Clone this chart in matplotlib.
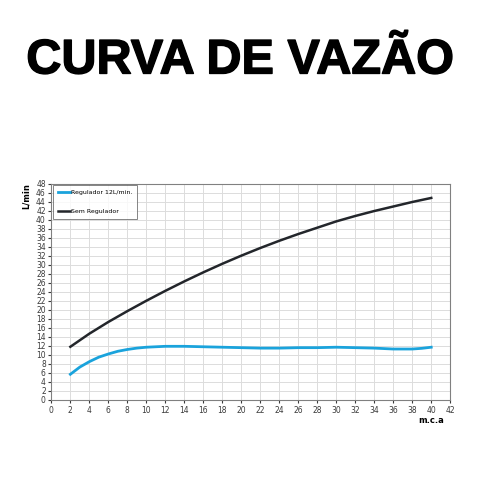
import matplotlib
matplotlib.use("Agg")
import matplotlib.pyplot as plt
import matplotlib.patheffects as pe

# Pressure (m.c.a) and flow (L/min)
pressure_reg = [2, 3, 4, 5, 6, 7, 8, 9, 10, 12, 14, 16, 18, 20, 22, 24, 26, 28, 30, 32, 34, 36, 38, 39, 40]
flow_regulator = [5.7, 7.3, 8.5, 9.5, 10.2, 10.8, 11.2, 11.5, 11.7, 11.9, 11.9, 11.8, 11.7, 11.6,
                  11.5, 11.5, 11.6, 11.6, 11.7, 11.6, 11.5, 11.3, 11.3, 11.45, 11.7]
pressure = [2, 4, 6, 8, 10, 12, 14, 16, 18, 20, 22, 24, 26, 28, 30, 32, 34, 36, 38, 40]
flow_no_regulator = [11.8, 14.7, 17.3, 19.7, 22.0, 24.2, 26.3, 28.3, 30.2, 32.0,
                     33.7, 35.3, 36.8, 38.2, 39.6, 40.8, 41.9, 42.9, 43.9, 44.8]

x_ticks = list(range(0, 43, 2))
y_ticks = list(range(0, 49, 2))

fig = plt.figure(figsize=(4.8, 4.8), dpi=100)
fig.text(0.5, 0.873, "CURVA DE VAZÃO", ha="center", va="center",
         fontsize=35, fontweight="bold", family="Liberation Sans",
         path_effects=[pe.withStroke(linewidth=1.0, foreground="black")])

ax = fig.add_axes([0.107, 0.1667, 0.831, 0.451])
ax.plot(pressure_reg, flow_regulator, color="#1aa3dc", linewidth=2.0, label="Regulador 12L/min.")
ax.plot(pressure, flow_no_regulator, color="#23262b", linewidth=1.8, label="Sem Regulador")

ax.set_xlim(0, 42)
ax.set_ylim(0, 48)
ax.set_xticks(x_ticks)
ax.set_yticks(y_ticks)
ax.tick_params(labelsize=5.5, length=2, colors="#3a3a3a", pad=2)
ax.grid(True, color="#dcdcdc", linewidth=0.7)
ax.set_axisbelow(True)
for spine in ax.spines.values():
    spine.set_color("#808080")
    spine.set_linewidth(0.8)

ax.text(-2.6, 48, "L/min", rotation=90, ha="center", va="top",
        fontsize=6, fontweight="bold")
ax.text(40, -4.6, "m.c.a", ha="center", va="center", fontsize=6, fontweight="bold")

leg = ax.legend(loc="upper left", fontsize=4.5, frameon=True, fancybox=False,
                edgecolor="#666666", handlelength=2.0, labelspacing=2.1,
                handletextpad=0.1, borderpad=0.8, borderaxespad=0.25)
leg.get_frame().set_linewidth(0.7)

fig.savefig("out.png", dpi=100)
